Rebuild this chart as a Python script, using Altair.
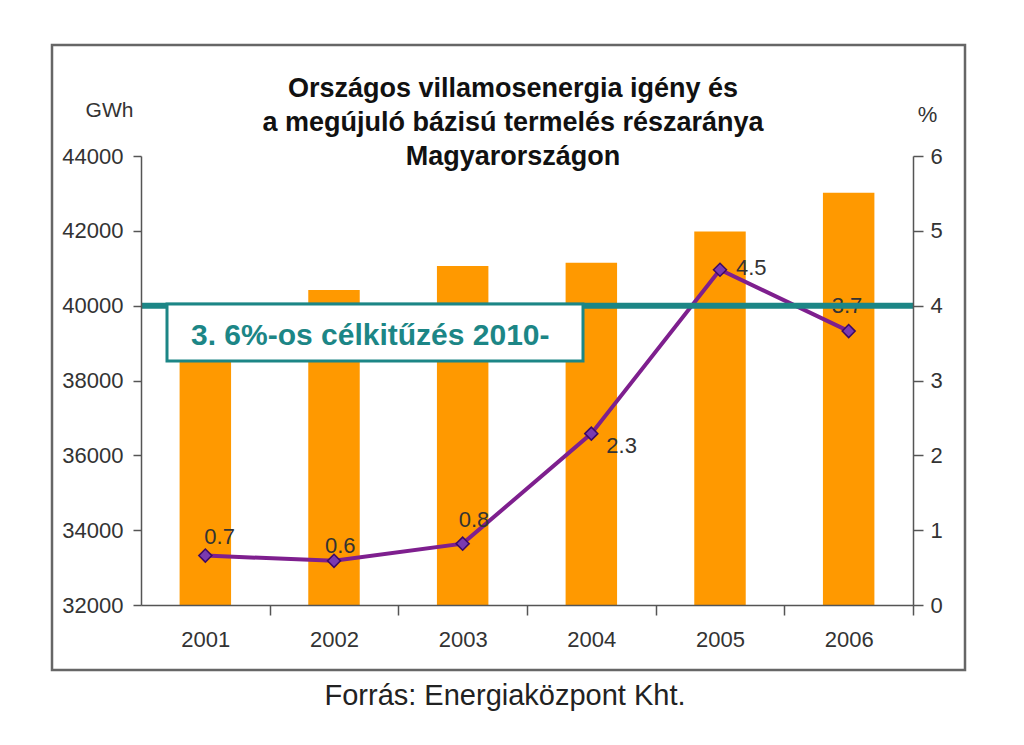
import altair as alt
import pandas as pd

# ---- data ----
years = ["2001", "2002", "2003", "2004", "2005", "2006"]
demand_gwh = [39600, 40420, 41060, 41150, 41980, 43020]
renewable_share = [0.66, 0.59, 0.82, 2.29, 4.48, 3.66]
target_gwh = [40000]
left_ticks = [32000, 34000, 36000, 38000, 40000, 42000, 44000]
right_ticks = [0, 1, 2, 3, 4, 5, 6]
title_lines = [
    "Országos villamosenergia igény és",
    "a megújuló bázisú termelés részaránya",
    "Magyarországon",
]
target_label = "3. 6%-os célkitűzés 2010-"
source_label = "Forrás: Energiaközpont Kht."

df = pd.DataFrame({"year": years, "gwh": demand_gwh, "pct": renewable_share})
df["lab"] = [f"{v:.1f}" for v in renewable_share]
tdf = pd.DataFrame({"gwh": target_gwh})

W, H = 772, 449
STEP = W / len(years)
FONT = "Liberation Sans"
ORANGE = "#FF9900"
PURPLE = "#7E1F8E"
TEAL = "#1C8686"

xaxis = alt.Axis(title=None, labelAngle=0, ticks=True,
                 tickOffset=STEP / 2, labelOffset=-STEP / 2,
                 labelFontSize=22, labelColor="#333", labelFont=FONT,
                 labelPadding=14, tickSize=10, domainColor="#555",
                 tickColor="#555", domainWidth=1.5, tickWidth=1.5, zindex=1)
xscale = alt.Scale(paddingInner=0.6, paddingOuter=0.3)


def xenc():
    return alt.X("year:N", scale=xscale, axis=xaxis)


left_scale = alt.Scale(domain=[32000, 44000], nice=False, zero=False)
right_scale = alt.Scale(domain=[0, 6], nice=False, zero=True)

bars = alt.Chart(df).mark_bar(color=ORANGE, clip=True).encode(
    x=xenc(),
    y=alt.Y("gwh:Q", scale=left_scale,
            axis=alt.Axis(values=left_ticks, format="d", title="GWh", titleAngle=0,
                          titleX=-32, titleY=-46, titleAlign="center",
                          titleBaseline="middle", titleFontSize=21,
                          titleFontWeight="normal", titleColor="#333", titleFont=FONT,
                          labelFontSize=22, labelColor="#333", labelFont=FONT,
                          tickSize=8, labelPadding=10, domainColor="#555",
                          tickColor="#555", domainWidth=1.5, tickWidth=1.5, grid=False,
                          zindex=1)),
    y2=alt.datum(32000),
)

target_rule = alt.Chart(tdf).mark_rule(color=TEAL, strokeWidth=6).encode(
    y=alt.Y("gwh:Q", scale=left_scale, axis=None),
)

box = alt.Chart(tdf).mark_rect(fill="white", stroke=TEAL, strokeWidth=3).encode(
    x=alt.value(26), x2=alt.value(442), y=alt.value(148), y2=alt.value(205)
)
box_text = alt.Chart(tdf).mark_text(
    text=target_label, align="left", baseline="alphabetic", fontSize=30,
    fontWeight="bold", color=TEAL, font=FONT
).encode(x=alt.value(50), y=alt.value(189))

line = alt.Chart(df).mark_line(color=PURPLE, strokeWidth=4).encode(
    x=xenc(),
    y=alt.Y("pct:Q", scale=right_scale,
            axis=alt.Axis(orient="right", values=right_ticks, title="%", titleAngle=0,
                          titleX=14, titleY=-42, titleAlign="center",
                          titleBaseline="middle", titleFontSize=22,
                          titleFontWeight="normal", titleColor="#333", titleFont=FONT,
                          labelFontSize=22, labelColor="#333", labelFont=FONT,
                          tickSize=10, labelPadding=7, domainColor="#555",
                          tickColor="#555", domainWidth=1.5, tickWidth=1.5, grid=False,
                          zindex=1)),
)
points = alt.Chart(df).mark_point(shape="diamond", filled=True, size=170,
                                  fill="#7A3AB0", stroke="#3D0A66",
                                  strokeWidth=1.5, opacity=1).encode(
    x=xenc(),
    y=alt.Y("pct:Q", scale=right_scale, axis=None),
)


def label(year, dx, dy):
    return alt.Chart(df).transform_filter(alt.datum.year == year).mark_text(
        align="left", baseline="alphabetic", dx=dx, dy=dy, fontSize=22,
        color="#333", font=FONT
    ).encode(
        x=xenc(),
        y=alt.Y("pct:Q", scale=right_scale, axis=None),
        text="lab:N",
    )


labels = [
    label("2001", -1, -12),
    label("2002", -9, -8),
    label("2003", -4, -17),
    label("2004", 15, 19),
    label("2005", 16, 5),
    label("2006", -17, -18),
]

frame = alt.Chart(tdf).mark_rect(fill=None, stroke="#666", strokeWidth=2.5).encode(
    x=alt.value(-89), x2=alt.value(824), y=alt.value(-111), y2=alt.value(514)
)

title_marks = [
    alt.Chart(tdf).mark_text(text=t, align="center", baseline="alphabetic",
                             fontSize=27, fontWeight="bold", color="#111",
                             font=FONT).encode(x=alt.value(372), y=alt.value(yy))
    for t, yy in zip(title_lines, [-59, -25, 9])
]

source = alt.Chart(tdf).mark_text(text=source_label, align="center",
                                  baseline="alphabetic", fontSize=29,
                                  color="#222", font=FONT).encode(
    x=alt.value(364), y=alt.value(549))

chart = alt.layer(
    frame, bars, line, points, *labels, target_rule, box, box_text,
    *title_marks, source
).resolve_scale(y="independent").properties(
    width=W, height=H,
    autosize=alt.AutoSizeParams(type="none"),
    padding={"left": 133, "top": 148, "right": 100, "bottom": 120},
).configure_view(stroke=None)

chart.save("out.html", embed_options={"renderer": "svg", "actions": False})
